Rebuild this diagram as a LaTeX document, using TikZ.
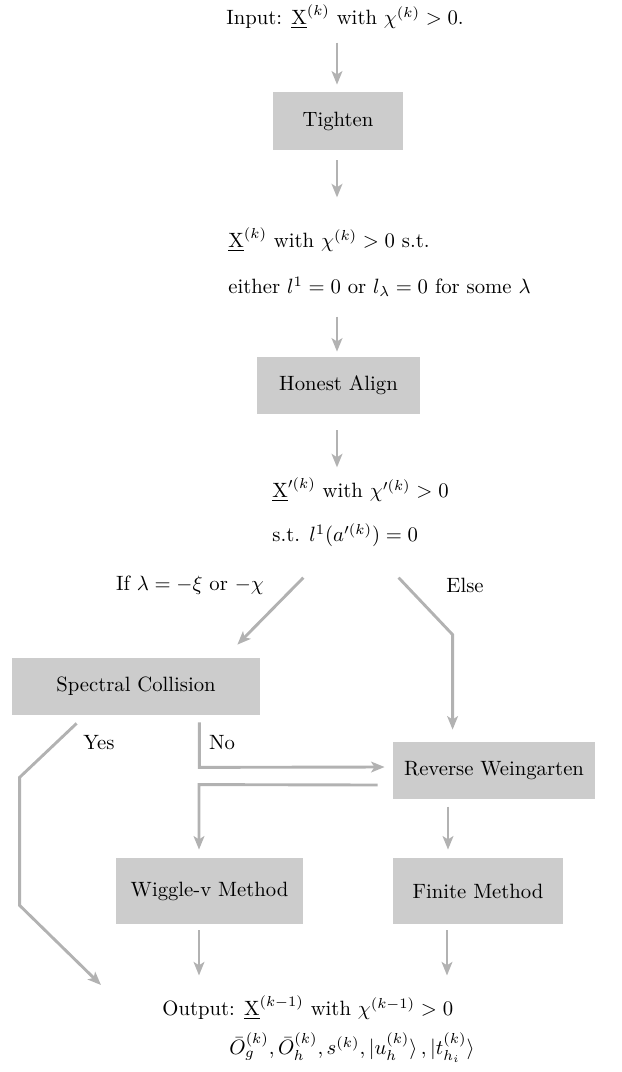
\documentclass[tikz,border=0pt]{standalone}
\usetikzlibrary{arrows.meta,calc}
\definecolor{boxgray}{RGB}{204,204,204}
\definecolor{linegray}{RGB}{178,178,178}
\tikzset{
  box/.style={fill=boxgray, draw=none, inner sep=0pt, font=\normalsize},
  txt/.style={inner sep=0pt},
  arr/.style={draw=linegray, line width=1.4pt, -{Stealth[length=6.5pt,width=5.2pt,inset=1.6pt]}},
  ln/.style={draw=linegray, line width=1.4pt}
}
\begin{document}
\begin{tikzpicture}[x=0.4832pt,y=-0.4832pt]
\useasboundingbox (0,0) rectangle (622,1072);
% texts
\node[txt] (in) at (345,17) {Input: $\underline{\mathrm{X}}^{(k)}$ with $\chi^{(k)}>0$.};
\node[box, minimum width=62.8pt, minimum height=28pt] (tighten) at (338,121) {Tighten};
\node[txt, anchor=west] (s1a) at (228,240) {$\underline{\mathrm{X}}^{(k)}$ with $\chi^{(k)}>0$ s.t.};
\node[txt, anchor=west] (s1b) at (228,287) {either $l^1=0$ or $l_\lambda=0$ for some $\lambda$};
\node[box, minimum width=78.8pt, minimum height=27.5pt] (honest) at (338.5,385.5) {Honest Align};
\node[txt, anchor=west] (s2a) at (272,490) {$\underline{\mathrm{X}}'^{(k)}$ with $\chi'^{(k)}>0$};
\node[txt, anchor=west] (s2b) at (272,535) {s.t. $l^1(a'^{(k)})=0$};
\node[txt] (ifl) at (190,585) {If $\lambda=-\xi$ or $-\chi$};
\node[txt] (else) at (465,585) {Else};
\node[box, minimum width=119.8pt, minimum height=27.5pt] (spec) at (136,686.5) {Spectral Collision};
\node[box, minimum width=97.6pt, minimum height=27.5pt] (rev) at (494,770.5) {Reverse Weingarten};
\node[box, minimum width=90.4pt, minimum height=31.9pt] (wig) at (209.5,891) {Wiggle-v Method};
\node[box, minimum width=82.1pt, minimum height=31.9pt] (fin) at (478,891) {Finite Method};
\node[txt] (yes) at (99,743) {Yes};
\node[txt] (no) at (222,743) {No};
\node[txt, anchor=west] (out1) at (162,1008) {Output: $\underline{\mathrm{X}}^{(k-1)}$ with $\chi^{(k-1)}>0$};
\node[txt, anchor=west] (out2) at (229,1048) {$\bar{O}_g^{(k)},\bar{O}_h^{(k)},s^{(k)},|u_h^{(k)}\rangle\,,|t_{h_i}^{(k)}\rangle$};
% connectors
\draw[arr] ($(tighten.north)+(-1,-49)$) -- ($(tighten.north)+(-1,-7)$);
\draw[arr] ($(tighten.south)+(-1,10)$) -- ($(tighten.south)+(-1,47)$);
\draw[arr] ($(honest.north)+(-1.5,-40)$) -- ($(honest.north)+(-1.5,-5)$);
\draw[arr] ($(honest.south)+(-1.5,16)$) -- ($(honest.south)+(-1.5,53)$);
\draw[arr] ($(spec.north east)+(43,-80)$) -- ($(spec.north east)+(-23,-13)$);
\draw[arr] ($(rev.north west)+(6,-164)$) -- ($(rev.north west)+(60,-107)$) -- ($(rev.north west)+(60,-12)$);
\draw[arr] ($(spec.south west)+(65,8)$) -- ($(spec.south west)+(8,62)$) -- ($(spec.south west)+(8,190)$) -- ($(out1.west)+(-61,-23)$);
\draw[arr] ($(spec.south east)+(-61,7)$) -- ($(spec.south east)+(-61,52)$) -- ($(rev.west)+(-8,-3.5)$);
\draw[arr] ($(rev.west)+(-15,14.5)$) -- ($(wig.north)+(-10.5,-73)$) -- ($(wig.north)+(-10.5,-8)$);
\draw[arr] ($(fin.north)+(-30,-51)$) -- ($(fin.north)+(-30,-8)$);
\draw[arr] ($(wig.south)+(-10.5,6)$) -- ($(wig.south)+(-10.5,51)$);
\draw[arr] ($(fin.south)+(-31,6)$) -- ($(fin.south)+(-31,51)$);
\end{tikzpicture}
\end{document}
